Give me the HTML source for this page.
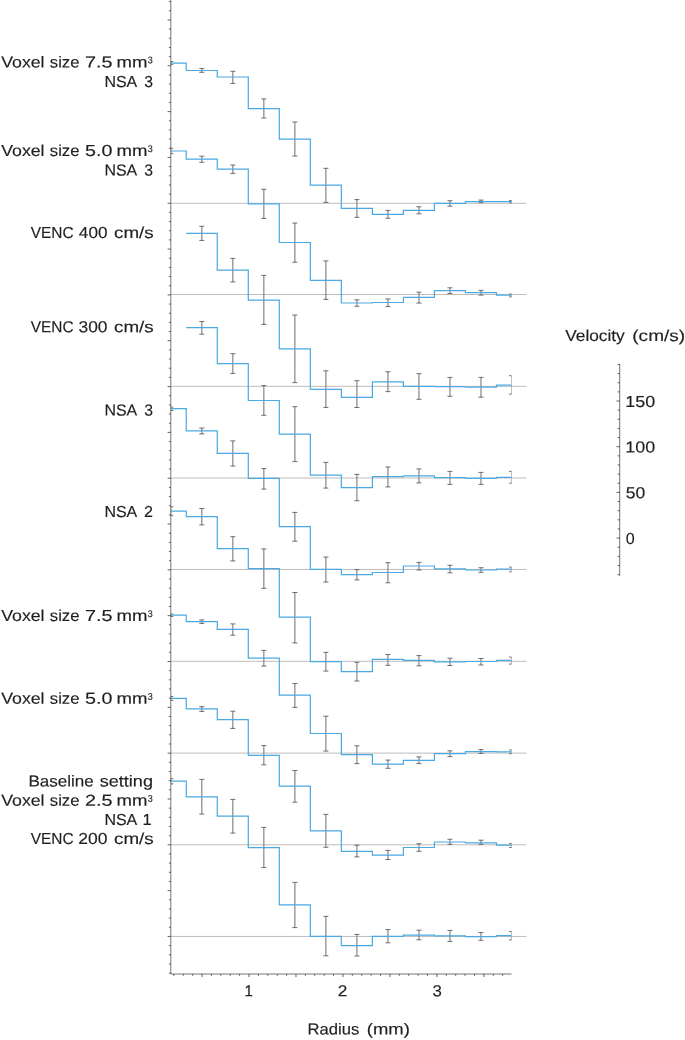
<!DOCTYPE html>
<html><head><meta charset="utf-8"><title>Velocity profiles</title>
<style>html,body{margin:0;padding:0;background:#fff}svg{display:block;will-change:transform}text{font-family:"Liberation Sans",sans-serif;fill:#1f1f1f;word-spacing:0.8px}</style>
</head><body>
<svg width="685" height="1040" viewBox="0 0 685 1040">
<rect width="685" height="1040" fill="#fff"/>
<defs><clipPath id="c"><rect x="170.80" y="0" width="340.70" height="974.00"/></clipPath></defs>
<g stroke="#bdbdbd" stroke-width="1" fill="none">
<line x1="170.8" y1="203.30" x2="526.4" y2="203.30"/>
<line x1="170.8" y1="294.50" x2="526.4" y2="294.50"/>
<line x1="170.8" y1="386.35" x2="526.4" y2="386.35"/>
<line x1="170.8" y1="478.00" x2="526.4" y2="478.00"/>
<line x1="170.8" y1="569.45" x2="526.4" y2="569.45"/>
<line x1="170.8" y1="661.30" x2="526.4" y2="661.30"/>
<line x1="170.8" y1="753.10" x2="526.4" y2="753.10"/>
<line x1="170.8" y1="844.80" x2="526.4" y2="844.80"/>
<line x1="170.8" y1="936.45" x2="526.4" y2="936.45"/>
</g>
<g clip-path="url(#c)" stroke="#5a5a5a" fill="none">
<path stroke-width="1.15" stroke="#808080" d="M170.80 61.60V64.60M201.80 68.40V72.30M232.82 71.30V83.40M263.84 98.90V118.00M294.86 122.00V156.10M325.88 168.30V202.40M356.90 199.60V217.30M387.92 210.40V218.30M418.94 206.80V213.80M449.96 200.70V206.20M480.98 200.10V202.70M511.60 200.50V202.80M170.80 148.20V153.70M201.80 156.20V162.30M232.82 165.00V173.40M263.84 189.30V218.50M294.86 223.10V262.20M325.88 260.90V299.40M356.90 299.80V306.30M387.92 298.90V306.60M418.94 292.20V303.10M449.96 287.80V293.50M480.98 290.40V295.10M511.60 294.00V296.90M201.80 226.30V240.40M232.82 258.40V281.90M263.84 275.40V324.40M294.86 315.00V382.60M325.88 370.80V407.40M356.90 380.70V407.50M387.92 371.80V391.60M418.94 373.70V399.30M449.96 377.40V396.30M480.98 377.40V397.20M511.60 375.70V394.20M201.80 321.50V334.20M232.82 353.70V373.40M263.84 385.60V415.30M294.86 406.70V461.60M325.88 462.40V488.10M356.90 474.40V500.70M387.92 467.00V486.90M418.94 468.90V482.90M449.96 471.40V484.40M480.98 472.40V484.40M511.60 471.40V483.20M170.80 407.00V410.50M201.80 428.00V433.90M232.82 440.90V466.10M263.84 468.60V489.10M294.86 512.40V541.20M325.88 557.00V582.00M356.90 569.60V579.90M387.92 562.70V582.80M418.94 562.40V570.00M449.96 565.30V572.80M480.98 567.70V572.30M511.60 567.10V571.80M170.80 506.80V515.70M201.80 508.50V524.90M232.82 536.70V560.90M263.84 548.90V588.30M294.86 592.50V642.90M325.88 652.40V671.10M356.90 662.30V681.00M387.92 654.50V665.30M418.94 655.60V665.80M449.96 658.20V665.50M480.98 658.50V665.00M511.60 657.10V664.10M170.80 614.00V616.50M201.80 619.90V623.40M232.82 623.90V635.20M263.84 650.40V666.10M294.86 683.50V707.40M325.88 716.20V751.10M356.90 745.80V763.60M387.92 760.10V768.30M418.94 756.90V763.60M449.96 750.80V756.60M480.98 749.60V753.40M511.60 749.90V753.70M170.80 696.50V700.30M201.80 706.70V711.40M232.82 711.20V728.40M263.84 745.60V764.80M294.86 770.50V802.20M325.88 814.40V847.30M356.90 845.20V856.90M387.92 850.40V859.50M418.94 843.70V851.30M449.96 839.30V844.30M480.98 840.20V844.30M511.60 843.40V847.50M170.80 778.70V783.90M201.80 779.40V814.10M232.82 799.40V833.10M263.84 827.40V867.60M294.86 882.40V927.60M325.88 916.40V955.80M356.90 934.40V956.00M387.92 929.50V942.80M418.94 930.20V939.80M449.96 930.40V941.40M480.98 932.50V940.30M511.60 931.50V939.90"/>
<path stroke-width="0.85" stroke="#555" d="M168.30 61.60H173.30M168.30 64.60H173.30M199.30 68.40H204.30M199.30 72.30H204.30M230.32 71.30H235.32M230.32 83.40H235.32M261.34 98.90H266.34M261.34 118.00H266.34M292.36 122.00H297.36M292.36 156.10H297.36M323.38 168.30H328.38M323.38 202.40H328.38M354.40 199.60H359.40M354.40 217.30H359.40M385.42 210.40H390.42M385.42 218.30H390.42M416.44 206.80H421.44M416.44 213.80H421.44M447.46 200.70H452.46M447.46 206.20H452.46M478.48 200.10H483.48M478.48 202.70H483.48M509.10 200.50H514.10M509.10 202.80H514.10M168.30 148.20H173.30M168.30 153.70H173.30M199.30 156.20H204.30M199.30 162.30H204.30M230.32 165.00H235.32M230.32 173.40H235.32M261.34 189.30H266.34M261.34 218.50H266.34M292.36 223.10H297.36M292.36 262.20H297.36M323.38 260.90H328.38M323.38 299.40H328.38M354.40 299.80H359.40M354.40 306.30H359.40M385.42 298.90H390.42M385.42 306.60H390.42M416.44 292.20H421.44M416.44 303.10H421.44M447.46 287.80H452.46M447.46 293.50H452.46M478.48 290.40H483.48M478.48 295.10H483.48M509.10 294.00H514.10M509.10 296.90H514.10M199.30 226.30H204.30M199.30 240.40H204.30M230.32 258.40H235.32M230.32 281.90H235.32M261.34 275.40H266.34M261.34 324.40H266.34M292.36 315.00H297.36M292.36 382.60H297.36M323.38 370.80H328.38M323.38 407.40H328.38M354.40 380.70H359.40M354.40 407.50H359.40M385.42 371.80H390.42M385.42 391.60H390.42M416.44 373.70H421.44M416.44 399.30H421.44M447.46 377.40H452.46M447.46 396.30H452.46M478.48 377.40H483.48M478.48 397.20H483.48M509.10 375.70H514.10M509.10 394.20H514.10M199.30 321.50H204.30M199.30 334.20H204.30M230.32 353.70H235.32M230.32 373.40H235.32M261.34 385.60H266.34M261.34 415.30H266.34M292.36 406.70H297.36M292.36 461.60H297.36M323.38 462.40H328.38M323.38 488.10H328.38M354.40 474.40H359.40M354.40 500.70H359.40M385.42 467.00H390.42M385.42 486.90H390.42M416.44 468.90H421.44M416.44 482.90H421.44M447.46 471.40H452.46M447.46 484.40H452.46M478.48 472.40H483.48M478.48 484.40H483.48M509.10 471.40H514.10M509.10 483.20H514.10M168.30 407.00H173.30M168.30 410.50H173.30M199.30 428.00H204.30M199.30 433.90H204.30M230.32 440.90H235.32M230.32 466.10H235.32M261.34 468.60H266.34M261.34 489.10H266.34M292.36 512.40H297.36M292.36 541.20H297.36M323.38 557.00H328.38M323.38 582.00H328.38M354.40 569.60H359.40M354.40 579.90H359.40M385.42 562.70H390.42M385.42 582.80H390.42M416.44 562.40H421.44M416.44 570.00H421.44M447.46 565.30H452.46M447.46 572.80H452.46M478.48 567.70H483.48M478.48 572.30H483.48M509.10 567.10H514.10M509.10 571.80H514.10M168.30 506.80H173.30M168.30 515.70H173.30M199.30 508.50H204.30M199.30 524.90H204.30M230.32 536.70H235.32M230.32 560.90H235.32M261.34 548.90H266.34M261.34 588.30H266.34M292.36 592.50H297.36M292.36 642.90H297.36M323.38 652.40H328.38M323.38 671.10H328.38M354.40 662.30H359.40M354.40 681.00H359.40M385.42 654.50H390.42M385.42 665.30H390.42M416.44 655.60H421.44M416.44 665.80H421.44M447.46 658.20H452.46M447.46 665.50H452.46M478.48 658.50H483.48M478.48 665.00H483.48M509.10 657.10H514.10M509.10 664.10H514.10M168.30 614.00H173.30M168.30 616.50H173.30M199.30 619.90H204.30M199.30 623.40H204.30M230.32 623.90H235.32M230.32 635.20H235.32M261.34 650.40H266.34M261.34 666.10H266.34M292.36 683.50H297.36M292.36 707.40H297.36M323.38 716.20H328.38M323.38 751.10H328.38M354.40 745.80H359.40M354.40 763.60H359.40M385.42 760.10H390.42M385.42 768.30H390.42M416.44 756.90H421.44M416.44 763.60H421.44M447.46 750.80H452.46M447.46 756.60H452.46M478.48 749.60H483.48M478.48 753.40H483.48M509.10 749.90H514.10M509.10 753.70H514.10M168.30 696.50H173.30M168.30 700.30H173.30M199.30 706.70H204.30M199.30 711.40H204.30M230.32 711.20H235.32M230.32 728.40H235.32M261.34 745.60H266.34M261.34 764.80H266.34M292.36 770.50H297.36M292.36 802.20H297.36M323.38 814.40H328.38M323.38 847.30H328.38M354.40 845.20H359.40M354.40 856.90H359.40M385.42 850.40H390.42M385.42 859.50H390.42M416.44 843.70H421.44M416.44 851.30H421.44M447.46 839.30H452.46M447.46 844.30H452.46M478.48 840.20H483.48M478.48 844.30H483.48M509.10 843.40H514.10M509.10 847.50H514.10M168.30 778.70H173.30M168.30 783.90H173.30M199.30 779.40H204.30M199.30 814.10H204.30M230.32 799.40H235.32M230.32 833.10H235.32M261.34 827.40H266.34M261.34 867.60H266.34M292.36 882.40H297.36M292.36 927.60H297.36M323.38 916.40H328.38M323.38 955.80H328.38M354.40 934.40H359.40M354.40 956.00H359.40M385.42 929.50H390.42M385.42 942.80H390.42M416.44 930.20H421.44M416.44 939.80H421.44M447.46 930.40H452.46M447.46 941.40H452.46M478.48 932.50H483.48M478.48 940.30H483.48M509.10 931.50H514.10M509.10 939.90H514.10"/>
</g>
<g clip-path="url(#c)" stroke="#4aa9e0" stroke-width="1.2" fill="none" stroke-linejoin="miter">
<path d="M170.80 63.10H186.25V70.50H217.27V77.00H248.29V108.60H279.31V139.10H310.33V185.20H341.35V208.40H372.37V214.30H403.39V210.30H434.41V203.40H465.43V201.60H496.45V201.70H511.60"/>
<path d="M170.80 151.00H186.25V159.20H217.27V169.20H248.29V203.90H279.31V242.50H310.33V280.30H341.35V303.00H372.37V302.50H403.39V297.40H434.41V290.70H465.43V292.60H496.45V295.20H511.60"/>
<path d="M186.25 233.40H217.27V270.20H248.29V300.10H279.31V348.90H310.33V389.40H341.35V397.40H372.37V381.80H403.39V386.40H434.41V386.70H465.43V387.20H496.45V385.20H511.60"/>
<path d="M186.25 327.70H217.27V363.70H248.29V400.50H279.31V434.20H310.33V475.10H341.35V487.70H372.37V476.70H403.39V475.80H434.41V477.60H465.43V478.40H496.45V477.40H511.60"/>
<path d="M170.80 408.70H186.25V430.90H217.27V453.40H248.29V478.40H279.31V526.70H310.33V569.40H341.35V574.60H372.37V572.50H403.39V566.00H434.41V568.90H465.43V570.00H496.45V569.20H511.60"/>
<path d="M170.80 511.20H186.25V516.70H217.27V548.60H248.29V568.60H279.31V617.20H310.33V661.60H341.35V671.70H372.37V659.40H403.39V660.30H434.41V661.80H465.43V661.50H496.45V660.30H511.60"/>
<path d="M170.80 615.20H186.25V621.70H217.27V629.40H248.29V658.10H279.31V695.20H310.33V733.50H341.35V754.60H372.37V764.20H403.39V760.40H434.41V753.70H465.43V751.70H496.45V751.80H511.60"/>
<path d="M170.80 698.40H186.25V708.90H217.27V719.70H248.29V755.30H279.31V786.20H310.33V830.90H341.35V851.30H372.37V855.10H403.39V847.50H434.41V842.00H465.43V842.80H496.45V845.20H511.60"/>
<path d="M170.80 781.20H186.25V796.90H217.27V816.10H248.29V847.60H279.31V904.90H310.33V936.30H341.35V945.60H372.37V936.30H403.39V935.10H434.41V935.80H465.43V936.60H496.45V935.60H511.60"/>
</g>
<g stroke="#3a3a3a" stroke-width="0.8" fill="none">
<path stroke-width="0.85" stroke="#5c5c5c" d="M170.80 0V974.00H511.50"/>
<path d="M170.80 1.62h-1.90M170.80 10.79h-1.90M170.80 19.95h-3.20M170.80 29.12h-1.90M170.80 38.28h-1.90M170.80 47.45h-1.90M170.80 56.61h-1.90M170.80 65.78h-3.20M170.80 74.94h-1.90M170.80 84.11h-1.90M170.80 93.27h-1.90M170.80 102.44h-1.90M170.80 111.60h-3.20M170.80 120.77h-1.90M170.80 129.93h-1.90M170.80 139.09h-1.90M170.80 148.26h-1.90M170.80 157.43h-3.20M170.80 166.59h-1.90M170.80 175.75h-1.90M170.80 184.92h-1.90M170.80 194.09h-1.90M170.80 203.25h-3.20M170.80 212.41h-1.90M170.80 221.58h-1.90M170.80 230.75h-1.90M170.80 239.91h-1.90M170.80 249.07h-3.20M170.80 258.24h-1.90M170.80 267.40h-1.90M170.80 276.57h-1.90M170.80 285.74h-1.90M170.80 294.90h-3.20M170.80 304.06h-1.90M170.80 313.23h-1.90M170.80 322.39h-1.90M170.80 331.56h-1.90M170.80 340.73h-3.20M170.80 349.89h-1.90M170.80 359.05h-1.90M170.80 368.22h-1.90M170.80 377.38h-1.90M170.80 386.55h-3.20M170.80 395.71h-1.90M170.80 404.88h-1.90M170.80 414.04h-1.90M170.80 423.21h-1.90M170.80 432.38h-3.20M170.80 441.54h-1.90M170.80 450.70h-1.90M170.80 459.87h-1.90M170.80 469.03h-1.90M170.80 478.20h-3.20M170.80 487.36h-1.90M170.80 496.53h-1.90M170.80 505.69h-1.90M170.80 514.86h-1.90M170.80 524.02h-3.20M170.80 533.19h-1.90M170.80 542.36h-1.90M170.80 551.52h-1.90M170.80 560.68h-1.90M170.80 569.85h-3.20M170.80 579.01h-1.90M170.80 588.18h-1.90M170.80 597.35h-1.90M170.80 606.51h-1.90M170.80 615.67h-3.20M170.80 624.84h-1.90M170.80 634.00h-1.90M170.80 643.17h-1.90M170.80 652.34h-1.90M170.80 661.50h-3.20M170.80 670.66h-1.90M170.80 679.83h-1.90M170.80 688.99h-1.90M170.80 698.16h-1.90M170.80 707.32h-3.20M170.80 716.49h-1.90M170.80 725.65h-1.90M170.80 734.82h-1.90M170.80 743.98h-1.90M170.80 753.15h-3.20M170.80 762.31h-1.90M170.80 771.48h-1.90M170.80 780.64h-1.90M170.80 789.81h-1.90M170.80 798.97h-3.20M170.80 808.14h-1.90M170.80 817.30h-1.90M170.80 826.47h-1.90M170.80 835.63h-1.90M170.80 844.80h-3.20M170.80 853.96h-1.90M170.80 863.13h-1.90M170.80 872.29h-1.90M170.80 881.46h-1.90M170.80 890.62h-3.20M170.80 899.79h-1.90M170.80 908.95h-1.90M170.80 918.12h-1.90M170.80 927.28h-1.90M170.80 936.45h-3.20M170.80 945.61h-1.90M170.80 954.78h-1.90M170.80 963.94h-1.90M170.80 973.11h-1.90"/>
<path d="M173.84 974.00v1.80M183.24 974.00v1.80M192.63 974.00v1.80M202.03 974.00v3.10M211.42 974.00v1.80M220.81 974.00v1.80M230.21 974.00v1.80M239.61 974.00v1.80M249.00 974.00v3.10M258.39 974.00v1.80M267.79 974.00v1.80M277.19 974.00v1.80M286.58 974.00v1.80M295.98 974.00v3.10M305.37 974.00v1.80M314.76 974.00v1.80M324.16 974.00v1.80M333.56 974.00v1.80M342.95 974.00v3.10M352.35 974.00v1.80M361.74 974.00v1.80M371.13 974.00v1.80M380.53 974.00v1.80M389.93 974.00v3.10M399.32 974.00v1.80M408.72 974.00v1.80M418.11 974.00v1.80M427.51 974.00v1.80M436.90 974.00v3.10M446.30 974.00v1.80M455.69 974.00v1.80M465.08 974.00v1.80M474.48 974.00v1.80M483.88 974.00v3.10M493.27 974.00v1.80M502.67 974.00v1.80"/>
<path stroke-width="0.85" stroke="#5c5c5c" d="M619.70 363.9V575.8"/>
<path d="M619.70 574.66h-2.10M619.70 565.52h-2.10M619.70 556.38h-2.10M619.70 547.24h-2.10M619.70 538.10h-3.20M619.70 528.96h-2.10M619.70 519.82h-2.10M619.70 510.68h-2.10M619.70 501.54h-2.10M619.70 492.40h-3.20M619.70 483.26h-2.10M619.70 474.12h-2.10M619.70 464.98h-2.10M619.70 455.84h-2.10M619.70 446.70h-3.20M619.70 437.56h-2.10M619.70 428.42h-2.10M619.70 419.28h-2.10M619.70 410.14h-2.10M619.70 401.00h-3.20M619.70 391.86h-2.10M619.70 382.72h-2.10M619.70 373.58h-2.10M619.70 364.44h-2.10"/>
</g>
<g font-size="10" stroke="#1f1f1f" stroke-width="0.1">
<text transform="translate(1.22 67.40) rotate(0.03) scale(1.7722 1.590)">Voxel</text>
<text transform="translate(49.80 67.40) rotate(0.03) scale(1.6706 1.590)">size</text>
<text transform="translate(84.91 67.40) rotate(0.03) scale(1.9846 1.590)">7.5</text>
<text transform="translate(116.60 67.40) rotate(0.03) scale(1.8627 1.590)">mm</text>
<text transform="translate(147.84 63.30) rotate(0.03) scale(0.8936 0.970)" stroke="#1f1f1f" stroke-width="0.18">3</text>
<text transform="translate(104.42 86.90) rotate(0.03) scale(1.5990 1.590)">NSA</text>
<text transform="translate(144.17 86.90) rotate(0.03) scale(1.5745 1.590)">3</text>
<text transform="translate(1.22 156.10) rotate(0.03) scale(1.7722 1.590)">Voxel</text>
<text transform="translate(49.80 156.10) rotate(0.03) scale(1.6706 1.590)">size</text>
<text transform="translate(85.11 156.10) rotate(0.03) scale(1.9695 1.590)">5.0</text>
<text transform="translate(116.60 156.10) rotate(0.03) scale(1.8627 1.590)">mm</text>
<text transform="translate(147.84 152.00) rotate(0.03) scale(0.8936 0.970)" stroke="#1f1f1f" stroke-width="0.18">3</text>
<text transform="translate(104.42 175.50) rotate(0.03) scale(1.5990 1.590)">NSA</text>
<text transform="translate(144.17 175.50) rotate(0.03) scale(1.5745 1.590)">3</text>
<text transform="translate(30.75 237.90) rotate(0.03) scale(1.5441 1.590)">VENC</text>
<text transform="translate(78.86 237.90) rotate(0.03) scale(1.7143 1.590)">400</text>
<text transform="translate(113.95 237.90) rotate(0.03) scale(1.8867 1.590)">cm/s</text>
<text transform="translate(30.75 332.30) rotate(0.03) scale(1.5441 1.590)">VENC</text>
<text transform="translate(78.51 332.30) rotate(0.03) scale(1.7358 1.590)">300</text>
<text transform="translate(113.95 332.30) rotate(0.03) scale(1.8867 1.590)">cm/s</text>
<text transform="translate(104.42 415.40) rotate(0.03) scale(1.5990 1.590)">NSA</text>
<text transform="translate(144.17 415.40) rotate(0.03) scale(1.5745 1.590)">3</text>
<text transform="translate(104.42 517.00) rotate(0.03) scale(1.5990 1.590)">NSA</text>
<text transform="translate(144.00 517.00) rotate(0.03) scale(1.6087 1.590)">2</text>
<text transform="translate(1.22 621.00) rotate(0.03) scale(1.7722 1.590)">Voxel</text>
<text transform="translate(49.80 621.00) rotate(0.03) scale(1.6706 1.590)">size</text>
<text transform="translate(84.91 621.00) rotate(0.03) scale(1.9846 1.590)">7.5</text>
<text transform="translate(116.60 621.00) rotate(0.03) scale(1.8627 1.590)">mm</text>
<text transform="translate(147.84 616.90) rotate(0.03) scale(0.8936 0.970)" stroke="#1f1f1f" stroke-width="0.18">3</text>
<text transform="translate(1.22 703.80) rotate(0.03) scale(1.7722 1.590)">Voxel</text>
<text transform="translate(49.80 703.80) rotate(0.03) scale(1.6706 1.590)">size</text>
<text transform="translate(85.11 703.80) rotate(0.03) scale(1.9695 1.590)">5.0</text>
<text transform="translate(116.60 703.80) rotate(0.03) scale(1.8627 1.590)">mm</text>
<text transform="translate(147.84 699.70) rotate(0.03) scale(0.8936 0.970)" stroke="#1f1f1f" stroke-width="0.18">3</text>
<text transform="translate(28.44 786.40) rotate(0.03) scale(1.7035 1.590)">Baseline</text>
<text transform="translate(99.76 786.40) rotate(0.03) scale(1.8070 1.590)">setting</text>
<text transform="translate(1.22 805.80) rotate(0.03) scale(1.7722 1.590)">Voxel</text>
<text transform="translate(49.80 805.80) rotate(0.03) scale(1.6706 1.590)">size</text>
<text transform="translate(84.91 805.80) rotate(0.03) scale(1.9846 1.590)">2.5</text>
<text transform="translate(116.60 805.80) rotate(0.03) scale(1.8627 1.590)">mm</text>
<text transform="translate(147.84 801.70) rotate(0.03) scale(0.8936 0.970)" stroke="#1f1f1f" stroke-width="0.18">3</text>
<text transform="translate(104.42 825.00) rotate(0.03) scale(1.5990 1.590)">NSA</text>
<text transform="translate(142.38 825.00) rotate(0.03) scale(1.6512 1.590)">1</text>
<text transform="translate(30.75 844.10) rotate(0.03) scale(1.5441 1.590)">VENC</text>
<text transform="translate(78.33 844.10) rotate(0.03) scale(1.7468 1.590)">200</text>
<text transform="translate(113.95 844.10) rotate(0.03) scale(1.8867 1.590)">cm/s</text>
<text transform="translate(565.23 340.90) rotate(0.03) scale(1.7289 1.590)">Velocity</text>
<text transform="translate(632.26 340.90) rotate(0.03) scale(1.9060 1.590)">(cm/s)</text>
<text transform="translate(625.27 406.90) rotate(0.03) scale(1.7935 1.590)">150</text>
<text transform="translate(625.27 452.60) rotate(0.03) scale(1.7935 1.590)">100</text>
<text transform="translate(625.80 498.30) rotate(0.03) scale(1.7573 1.590)">50</text>
<text transform="translate(625.86 544.00) rotate(0.03) scale(1.6042 1.590)">0</text>
<text transform="translate(244.59 996.30) rotate(0.03) scale(1.5116 1.590)">1</text>
<text transform="translate(337.64 996.30) rotate(0.03) scale(1.7174 1.590)">2</text>
<text transform="translate(432.43 996.30) rotate(0.03) scale(1.6809 1.590)">3</text>
<text transform="translate(307.47 1034.60) rotate(0.03) scale(1.6633 1.590)">Radius</text>
<text transform="translate(366.79 1034.60) rotate(0.03) scale(1.8507 1.590)">(mm)</text>
</g>
</svg>
</body></html>
